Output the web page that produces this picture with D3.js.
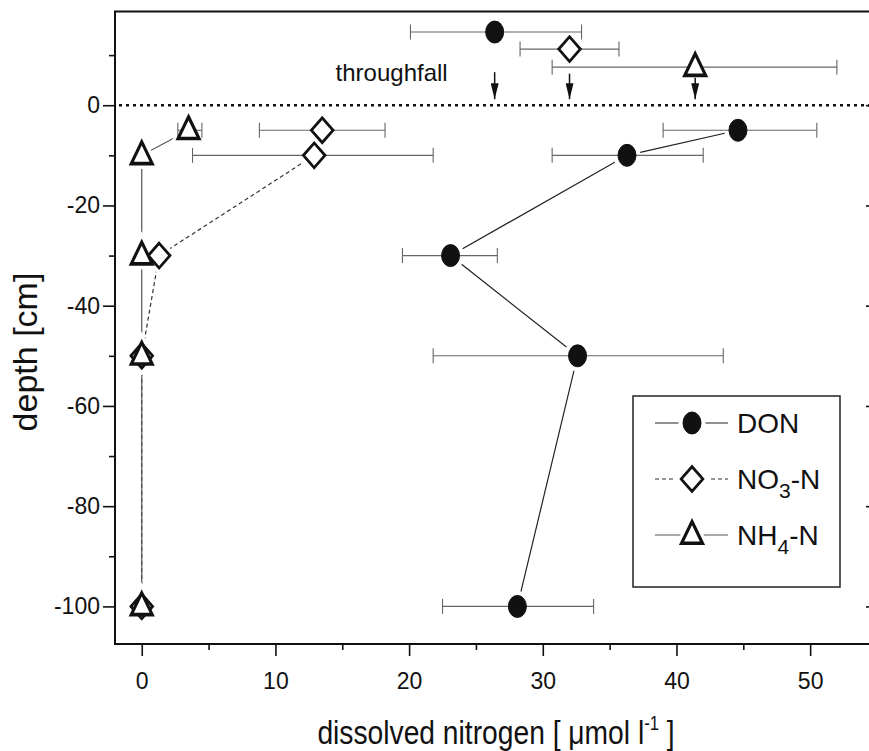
<!DOCTYPE html>
<html>
<head>
<meta charset="utf-8">
<script src="https://cdn.jsdelivr.net/npm/d3@7"></script>
<style>
  body { margin: 0; background: #fff; }
  svg { display: block; }
  text { font-family: 'Liberation Sans', Arial, sans-serif; fill: #111; }
</style>
</head>
<body>
<svg></svg>
<script>
// Soil solution depths (cm) and means / error bar ends per species
var depths = [-5, -10, -30, -50, -100];

var donValues = [44.6, 36.3, 23.1, 32.6, 28.1];
var donLow = [39.0, 30.7, 19.5, 21.8, 22.5];
var donHigh = [50.5, 42.0, 26.6, 43.5, 33.8];

var no3Values = [13.5, 12.9, 1.3, 0, 0];
var no3Low = [8.8, 3.8, 1.3, 0, 0];
var no3High = [18.2, 21.8, 1.3, 0, 0];

var nh4Values = [3.5, 0, 0, 0, 0];
var nh4Low = [2.7, 0, 0, 0, 0];
var nh4High = [4.5, 0, 0, 0, 0];

// Throughfall, drawn above the soil surface (DON, NO3-N, NH4-N)
var throughfallValues = [26.4, 32.0, 41.4];
var throughfallLow = [20.1, 28.3, 30.7];
var throughfallHigh = [32.9, 35.7, 52.0];
var throughfallDepths = [14.6, 11.2, 7.6];

var xTicks = [0, 10, 20, 30, 40, 50];
var xMinorTicks = [5, 15, 25, 35, 45, 55];
var yTicks = [-100, -80, -60, -40, -20, 0];
var yMinorTicks = [-90, -70, -50, -30, -10, 10];

// Dimensions
var width = 869;
var height = 751;
var plotLeft = 115;
var plotRight = 877;
var plotTop = 11.5;
var plotBottom = 644;
var fontFamily = "'Liberation Sans', Arial, sans-serif";

var svg = d3.select('svg')
  .attr('width', width)
  .attr('height', height);

var x = d3.scaleLinear().domain([-2, 55]).range([plotLeft, plotRight]);
var y = d3.scaleLinear().domain([-107.5, 18.7]).range([plotBottom, plotTop]);

// Symbol shapes
var diamondPath = d3.symbol().type(d3.symbolDiamond2).size(300)();
var trianglePath = d3.symbol().type(d3.symbolTriangle2).size(314)();

function drawSymbol (sel, kind, halo) {
  var s;
  if (kind === 'circle') {
    s = sel.append('ellipse').attr('rx', 9).attr('ry', 11);
  } else if (kind === 'diamond') {
    s = sel.append('path').attr('d', diamondPath).attr('transform', 'scale(1,1.14)');
  } else {
    s = sel.append('path').attr('d', trianglePath).attr('transform', 'translate(0,1) scale(1,1.2)');
  }
  if (halo) {
    s.attr('fill', '#fff').attr('stroke', '#fff').attr('stroke-width', 9);
  } else if (kind === 'circle') {
    s.attr('fill', '#111').attr('stroke', '#111').attr('stroke-width', 1);
  } else {
    s.attr('fill', '#fff').attr('stroke', '#111').attr('stroke-width', kind === 'triangle' ? 3 : 2.6)
      .attr('stroke-linejoin', 'miter');
  }
  return s;
}

// Build series records
function makeRows (values, low, high) {
  return depths.map(function (d, i) {
    return {depth: d, value: values[i], low: low[i], high: high[i]};
  });
}

var series = [
  {name: 'DON', kind: 'circle', dash: null, color: '#222', rows: makeRows(donValues, donLow, donHigh)},
  {name: 'NO3', kind: 'diamond', dash: '4,3', color: '#333', rows: makeRows(no3Values, no3Low, no3High)},
  {name: 'NH4', kind: 'triangle', dash: null, color: '#555', rows: makeRows(nh4Values, nh4Low, nh4High)}
];

series.forEach(function (s, i) {
  s.throughfall = {
    depth: throughfallDepths[i],
    value: throughfallValues[i],
    low: throughfallLow[i],
    high: throughfallHigh[i]
  };
});

// Axes: major / minor ticks on left, bottom and right (inward)
function styleAxis (g) {
  g.select('.domain').remove();
  g.selectAll('line').attr('stroke', '#111').attr('stroke-width', 1.6);
  g.attr('font-size', 23).attr('font-family', fontFamily);
  g.selectAll('text').attr('fill', '#111');
}

svg.append('g')
  .attr('transform', 'translate(' + plotLeft + ',0)')
  .call(d3.axisLeft(y).tickValues(yTicks).tickSize(12).tickPadding(3)
    .tickFormat(function (d) { return String(d); }))
  .call(styleAxis);

svg.append('g')
  .attr('transform', 'translate(' + plotLeft + ',0)')
  .call(d3.axisLeft(y).tickValues(yMinorTicks).tickSize(6).tickFormat(''))
  .call(styleAxis);

svg.append('g')
  .attr('transform', 'translate(' + plotRight + ',0)')
  .call(d3.axisRight(y).tickValues(yTicks).tickSize(-11).tickFormat(''))
  .call(styleAxis);

svg.append('g')
  .attr('transform', 'translate(0,' + plotBottom + ')')
  .call(d3.axisBottom(x).tickValues(xTicks).tickSize(12).tickPadding(17)
    .tickFormat(function (d) { return String(d); }))
  .call(styleAxis);

svg.append('g')
  .attr('transform', 'translate(0,' + plotBottom + ')')
  .call(d3.axisBottom(x).tickValues(xMinorTicks).tickSize(6).tickFormat(''))
  .call(styleAxis);

// Frame
svg.append('rect')
  .attr('x', plotLeft)
  .attr('y', plotTop)
  .attr('width', plotRight - plotLeft)
  .attr('height', plotBottom - plotTop)
  .attr('fill', 'none')
  .attr('stroke', '#111')
  .attr('stroke-width', 2);

// Soil surface (dotted)
svg.append('line')
  .attr('x1', x(-2) + 4)
  .attr('x2', x(55))
  .attr('y1', y(0))
  .attr('y2', y(0))
  .attr('stroke', '#111')
  .attr('stroke-width', 2.5)
  .attr('stroke-dasharray', '3,4');

// Axis titles
var xTitle = svg.append('text')
  .attr('transform', 'translate(' + ((318 + 674) / 2) + ',744) scale(0.83,1)')
  .attr('text-anchor', 'middle')
  .attr('font-size', 34);
xTitle.append('tspan').text('dissolved nitrogen [ \u03bcmol l');
xTitle.append('tspan').attr('font-size', 20).attr('dy', -14).text('-1');
xTitle.append('tspan').attr('dy', 14).text(' ]');

svg.append('text')
  .attr('transform', 'translate(37,352) rotate(-90)')
  .attr('text-anchor', 'middle')
  .attr('font-size', 34)
  .text('depth [cm]');

// Connecting lines between soil depths
var line = d3.line()
  .x(function (d) { return x(d.value); })
  .y(function (d) { return y(d.depth); });

series.forEach(function (s) {
  svg.append('path')
    .datum(s.rows)
    .attr('d', line)
    .attr('fill', 'none')
    .attr('stroke', s.color)
    .attr('stroke-width', 1.2)
    .attr('stroke-dasharray', s.dash);
});

// Halos so the lines stop short of the symbols
series.forEach(function (s) {
  svg.selectAll(null)
    .data(s.rows)
    .enter()
    .append('g')
      .attr('transform', function (d) { return 'translate(' + x(d.value) + ',' + y(d.depth) + ')'; })
      .each(function () { drawSymbol(d3.select(this), s.kind, true); });
});

// Error bars
var capHalf = 7.5;
series.forEach(function (s) {
  var bars = s.rows.concat([s.throughfall]).filter(function (d) { return d.high > d.low; });
  var g = svg.selectAll(null)
    .data(bars)
    .enter()
    .append('g')
      .attr('stroke', '#666')
      .attr('stroke-width', 1.1);
  g.append('line')
    .attr('x1', function (d) { return x(d.low); })
    .attr('x2', function (d) { return x(d.high); })
    .attr('y1', function (d) { return y(d.depth); })
    .attr('y2', function (d) { return y(d.depth); });
  g.append('line')
    .attr('x1', function (d) { return x(d.low); })
    .attr('x2', function (d) { return x(d.low); })
    .attr('y1', function (d) { return y(d.depth) - capHalf; })
    .attr('y2', function (d) { return y(d.depth) + capHalf; });
  g.append('line')
    .attr('x1', function (d) { return x(d.high); })
    .attr('x2', function (d) { return x(d.high); })
    .attr('y1', function (d) { return y(d.depth) - capHalf; })
    .attr('y2', function (d) { return y(d.depth) + capHalf; });
});

// Symbols (NH4 drawn last so its triangles sit on top at zero)
series.forEach(function (s) {
  svg.selectAll(null)
    .data(s.rows.concat([s.throughfall]))
    .enter()
    .append('g')
      .attr('transform', function (d) { return 'translate(' + x(d.value) + ',' + y(d.depth) + ')'; })
      .each(function () { drawSymbol(d3.select(this), s.kind, false); });
});

// Throughfall arrows pointing at the soil surface
svg.append('defs').append('marker')
  .attr('id', 'arrow')
  .attr('viewBox', '0 -4 16 8')
  .attr('refX', 16)
  .attr('refY', 0)
  .attr('markerWidth', 16)
  .attr('markerHeight', 8)
  .attr('markerUnits', 'userSpaceOnUse')
  .attr('orient', 'auto')
  .append('path')
    .attr('d', 'M0,-4L16,0L0,4Z')
    .attr('fill', '#111');

var arrowStarts = [6.6, 6.3, 5.5];
svg.selectAll(null)
  .data(throughfallValues)
  .enter()
  .append('line')
    .attr('x1', function (d) { return x(d); })
    .attr('x2', function (d) { return x(d); })
    .attr('y1', function (d, i) { return y(arrowStarts[i]); })
    .attr('y2', y(1.2))
    .attr('stroke', '#111')
    .attr('stroke-width', 1.5)
    .attr('marker-end', 'url(#arrow)');

svg.append('text')
  .attr('x', x(14.5))
  .attr('y', y(4.8))
  .attr('font-size', 24)
  .text('throughfall');

// Legend
var legend = svg.append('g');
legend.append('rect')
  .attr('x', 633)
  .attr('y', 396)
  .attr('width', 207)
  .attr('height', 191)
  .attr('fill', '#fff')
  .attr('stroke', '#222')
  .attr('stroke-width', 1.5);

var legendRowsY = [423, 479, 535];
series.forEach(function (s, i) {
  var row = legend.append('g')
    .attr('transform', 'translate(0,' + legendRowsY[i] + ')');
  row.append('line')
    .attr('x1', 655)
    .attr('x2', 728)
    .attr('stroke', s.color)
    .attr('stroke-width', 1.2)
    .attr('stroke-dasharray', s.dash);
  var sym = row.append('g').attr('transform', 'translate(692,0)');
  drawSymbol(sym, s.kind, true);
  drawSymbol(sym, s.kind, false);
  var label = row.append('text')
    .attr('x', 737)
    .attr('y', 10)
    .attr('font-size', 28);
  if (s.name === 'DON') {
    label.text('DON');
  } else {
    label.append('tspan').text(s.name.slice(0, 2));
    label.append('tspan').attr('font-size', 21).attr('dy', 9).text(s.name.slice(2));
    label.append('tspan').attr('dy', -9).text('-N');
  }
});
</script>
</body>
</html>
